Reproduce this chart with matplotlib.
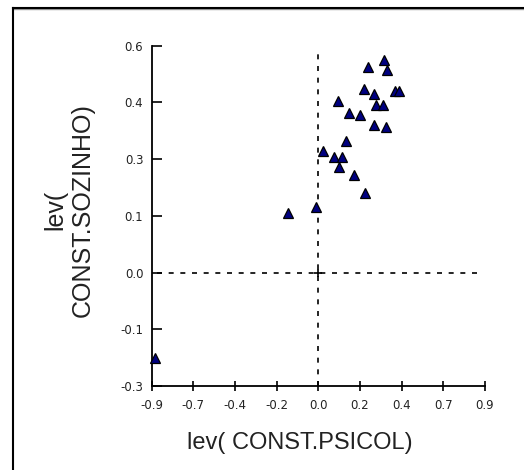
import matplotlib
matplotlib.use("Agg")
import matplotlib.pyplot as plt
from matplotlib.lines import Line2D
import numpy as np

# data
psicol = [-0.165, -0.012, 0.027, 0.085, 0.130, 0.113, 0.148, 0.193, 0.252,
          0.108, 0.167, 0.225, 0.270, 0.247, 0.300, 0.312, 0.348, 0.300,
          0.366, 0.355, 0.373, 0.414, 0.436, -0.882]
sozinho = [0.158, 0.174, 0.322, 0.305, 0.306, 0.280, 0.349, 0.258, 0.210,
           0.454, 0.421, 0.417, 0.543, 0.485, 0.472, 0.443, 0.443, 0.390,
           0.386, 0.562, 0.537, 0.481, 0.481, -0.227]

x_ticks = [-0.9, -0.675, -0.45, -0.225, 0.0, 0.225, 0.45, 0.675, 0.9]
x_tick_labels = ["-0.9", "-0.7", "-0.4", "-0.2", "0.0", "0.2", "0.4", "0.7", "0.9"]
y_ticks = [-0.3, -0.15, 0.0, 0.15, 0.3, 0.45, 0.6]
y_tick_labels = ["-0.3", "-0.1", "0.0", "0.1", "0.3", "0.4", "0.6"]

plt.rcParams['font.family'] = ['Liberation Sans', 'DejaVu Sans']

W, H = 524, 470
fig = plt.figure(figsize=(W / 100, H / 100), dpi=100)
fig.patch.set_facecolor("white")
ax = fig.add_axes([151.7 / W, 1 - 386 / H, (485 - 151.7) / W, (386 - 45.7) / H])
ax.set_facecolor("white")

ax.set_xlim(-0.9, 0.9)
ax.set_ylim(-0.3, 0.6)

for s in ["top", "right"]:
    ax.spines[s].set_visible(False)
for s in ["left", "bottom"]:
    ax.spines[s].set_linewidth(1.3)
    ax.spines[s].set_color("black")

ax.set_xticks(x_ticks)
ax.set_xticklabels(x_tick_labels, family="DejaVu Sans")
ax.set_yticks(y_ticks)
ax.set_yticklabels(y_tick_labels, family="DejaVu Sans")
ax.tick_params(axis="x", direction="inout", length=7.5, width=1.2, labelsize=8.5,
               pad=5.5, labelcolor="#222222")
ax.tick_params(axis="y", direction="in", length=7, width=1.2, labelsize=8.5,
               pad=6, labelcolor="#222222")

# reference lines
ax.axvline(0, ymin=0.0, ymax=0.985, color="black", lw=1.2, ls=(0, (3, 4)), zorder=1)
ax.axhline(0, xmin=0.015, xmax=0.985, color="black", lw=1.2, ls=(0, (3, 4)), zorder=1)
ax.plot([0], [0], marker="+", color="black", ms=6, mew=1.2, zorder=1)

ax.plot(psicol, sozinho, ls="none", marker="^", ms=7.5, mfc="#000080",
        mec="black", mew=0.9, zorder=3, clip_on=False)

ax.set_xlabel("lev( CONST.PSICOL)", fontsize=17, color="#222222")
ax.xaxis.set_label_coords((300 - 151.7) / 333.3, (386 - 443) / 340.3)
ax.xaxis.label.set_va("center")
ax.set_ylabel("lev(\nCONST.SOZINHO)", fontsize=18, color="#222222",
              linespacing=1.15, multialignment="center")
ax.yaxis.set_label_coords((69 - 151.7) / 333.3, (386 - 210) / 340.3)
ax.yaxis.label.set_va("center")
ax.yaxis.label.set_ha("center")

# outer frame (top and left edges)
fig.add_artist(Line2D([12.5 / W, 1], [1 - 8.5 / H, 1 - 8.5 / H], color="#999999", lw=1.0))
fig.add_artist(Line2D([12.5 / W, 1], [1 - 7.5 / H, 1 - 7.5 / H], color="black", lw=1.5))
fig.add_artist(Line2D([12.5 / W, 12.5 / W], [0, 1 - 7.5 / H], color="black", lw=1.5))

fig.savefig("out.png", dpi=100)
